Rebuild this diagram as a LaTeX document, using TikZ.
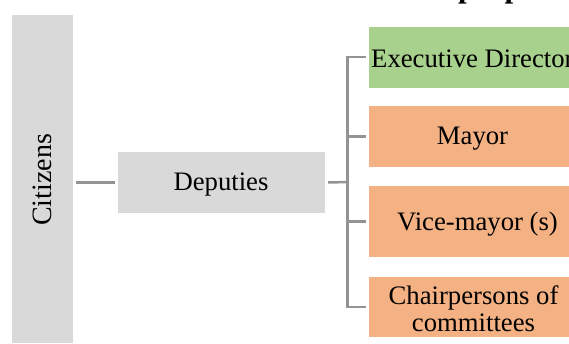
\documentclass[tikz,border=0pt]{standalone}
\usepackage{fontspec}
\setmainfont{Liberation Serif}
\definecolor{boxgray}{HTML}{D9D9D9}
\definecolor{boxgreen}{HTML}{A9D18E}
\definecolor{boxorange}{HTML}{F4B183}
\definecolor{linkgray}{HTML}{939393}
\begin{document}
\begin{tikzpicture}[x=1pt,y=-1pt,
  box/.style={draw=none,inner sep=0pt,outer sep=0pt},
  lbl/.style={inner sep=0pt,align=center,font=\fontsize{26.7}{27}\selectfont},
  graybox/.style={box,fill=boxgray},
  greenbox/.style={box,fill=boxgreen},
  orangebox/.style={box,fill=boxorange},
  link/.style={draw=linkgray,line width=2.5pt}]
\useasboundingbox (0,0) rectangle (569,343);
% cropped title
\node[anchor=base west,inner sep=0pt,font=\bfseries\fontsize{31}{31}\selectfont] (title) at (458,-3) {people};
% Citizens
\node[graybox,minimum width=61pt,minimum height=328pt] (cit) at (42.5,179) {};
\node[rotate=90,inner sep=0pt,font=\fontsize{28}{28}\selectfont] (citt) at (42,180) {Citizens};
% Deputies
\node[graybox,minimum width=207pt,minimum height=61pt] (dep) at (221.5,182.5) {};
\node[lbl] (dept) at (221,184.5) {Deputies};
% right column
\node[greenbox,minimum width=211pt,minimum height=61pt] (exe) at (474.5,57) {};
\node[lbl,anchor=west] (exet) at (371,59) {Executive Director};
\node[orangebox,minimum width=211pt,minimum height=61pt] (may) at (474.5,136.5) {};
\node[lbl] (mayt) at (472.5,139) {Mayor};
\node[orangebox,minimum width=211pt,minimum height=71pt] (vic) at (474.5,221.5) {};
\node[lbl] (vict) at (477.5,224) {Vice-mayor (s)};
\node[orangebox,minimum width=211pt,minimum height=60pt] (cha) at (474.5,307) {};
\node[lbl] (chat) at (473.5,308.5) {Chairpersons of\\committees};
% connectors
\coordinate (trunk) at (347.5,182);
\draw[link] ([xshift=-42pt]dep.west) -- ([xshift=-3pt]dep.west);
\draw[link] ([xshift=3pt]dep.east) -- (trunk);
\draw[link] ([xshift=-3pt]exe.west) -| (trunk);
\draw[link] ([xshift=-3pt]cha.west) -| (trunk);
\draw[link] ([xshift=-3pt]may.west) -- (may.west -| trunk);
\draw[link] ([xshift=-3pt]vic.west) -- (vic.west -| trunk);
\end{tikzpicture}
\end{document}
